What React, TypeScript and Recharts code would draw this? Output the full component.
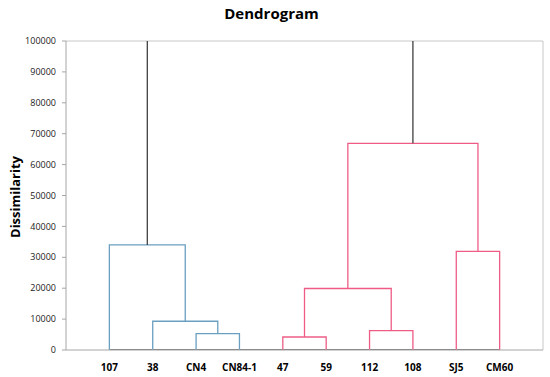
import { ComposedChart, Line, XAxis, YAxis, ReferenceLine } from 'recharts';

// leaves, left to right
const leaves = ['107', '38', 'CN4', 'CN84-1', '47', '59', '112', '108', 'SJ5', 'CM60'];

// merges: node ids 0..9 are leaves, merge k becomes node 10 + k
const mergeLeft = [2, 1, 0, 4, 6, 13, 8, 15, 12];
const mergeRight = [3, 10, 11, 5, 7, 14, 9, 16, 17];
const mergeHeight = [5300, 9300, 34000, 4200, 6300, 19900, 31900, 66900, 130000];
const mergeColor = ['#6A9FC0', '#6A9FC0', '#6A9FC0', '#EE5C86', '#EE5C86', '#EE5C86', '#EE5C86', '#EE5C86', '#404040'];

const yTicks = [0, 10000, 20000, 30000, 40000, 50000, 60000, 70000, 80000, 90000, 100000];

const font = '"Open Sans", sans-serif';

// x position and height of every node
const nodeX: number[] = leaves.map((_, i) => i + 1);
const nodeH: number[] = leaves.map(() => 0);
mergeLeft.forEach((a, k) => {
  const b = mergeRight[k];
  nodeX.push((nodeX[a] + nodeX[b]) / 2);
  nodeH.push(mergeHeight[k]);
});

const links = mergeLeft.map((a, k) => {
  const b = mergeRight[k];
  const h = mergeHeight[k];
  return [
    { x: nodeX[a], y: nodeH[a] },
    { x: nodeX[a], y: h },
    { x: nodeX[b], y: h },
    { x: nodeX[b], y: nodeH[b] },
  ];
});

const baseline = [
  { x: 1, y: 0 },
  { x: leaves.length, y: 0 },
];

export default function App() {
  return (
    <div style={{ position: 'absolute', left: 0, top: 0, width: 550, height: 377, background: '#fff' }}>
      <div
        style={{
          position: 'absolute',
          left: 0,
          top: 3,
          width: 543,
          textAlign: 'center',
          fontFamily: font,
          fontWeight: 700,
          fontSize: 15,
        }}
      >
        Dendrogram
      </div>
      <div
        style={{
          position: 'absolute',
          left: 15,
          top: 197,
          transform: 'translate(-50%, -50%) rotate(-90deg)',
          fontFamily: font,
          fontWeight: 700,
          fontSize: 13,
          whiteSpace: 'nowrap',
        }}
      >
        Dissimilarity
      </div>
      <ComposedChart width={550} height={377} margin={{ top: 41, right: 7, left: 0, bottom: 0 }}>
        <XAxis
          type="number"
          dataKey="x"
          domain={[0, 11]}
          ticks={leaves.map((_, i) => i + 1)}
          tickFormatter={(v: number) => leaves[v - 1] ?? ''}
          tickLine={false}
          tickSize={0}
          tickMargin={14}
          height={27}
          axisLine={{ stroke: '#A6A6A6' }}
          tick={{ fill: '#000', fontFamily: font, fontWeight: 700, fontSize: 10 }}
          interval={0}
        />
        <YAxis
          type="number"
          domain={[0, 100000]}
          ticks={yTicks}
          allowDataOverflow
          width={66}
          tickSize={4}
          tickMargin={6}
          axisLine={{ stroke: '#A6A6A6' }}
          tickLine={{ stroke: '#A6A6A6' }}
          tick={{ fill: '#222', fontFamily: font, fontSize: 9 }}
        />
        <ReferenceLine y={100000} stroke="#C8C8C8" />
        <ReferenceLine x={11} stroke="#C8C8C8" />
        <Line
          data={baseline}
          dataKey="y"
          stroke="#404040"
          strokeWidth={1.3}
          dot={false}
          isAnimationActive={false}
        />
        {links.map((pts, k) => (
          <Line
            key={k}
            data={pts}
            dataKey="y"
            name={`link${k}`}
            stroke={mergeColor[k]}
            strokeWidth={1.3}
            dot={false}
            isAnimationActive={false}
          />
        ))}
      </ComposedChart>
    </div>
  );
}
